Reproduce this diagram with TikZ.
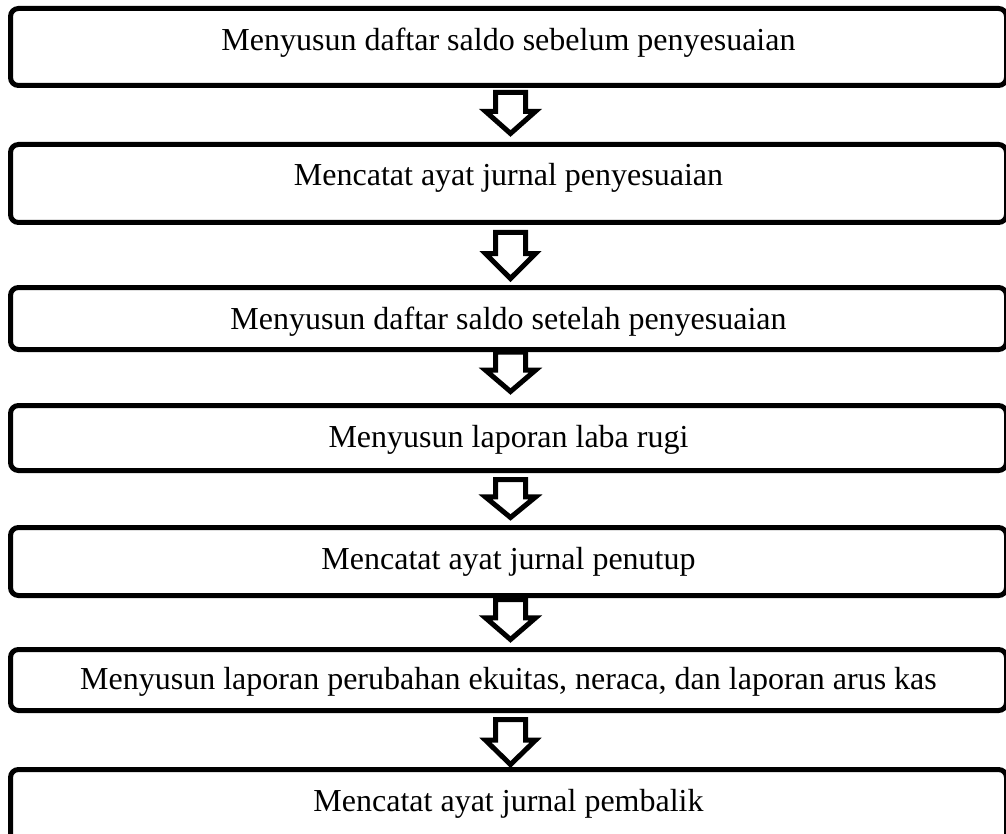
\documentclass[tikz,border=0pt]{standalone}
\usepackage{fontspec}
\setmainfont{Liberation Serif}
\usetikzlibrary{positioning, calc}
\tikzstyle{stepbox} = [rectangle, rounded corners=8pt, minimum width=996pt, line width=5pt, draw=black, text centered, font=\fontsize{32}{38}\selectfont, inner sep=0pt]
\tikzstyle{textdown} = [text height=#1, text depth=0pt]
\tikzstyle{blockarrow} = [draw=black, line width=5pt, line join=miter, fill=white]

% hollow arrow from one box to the next: #3 gap below the first, #4 gap above the second
\newcommand{\flowarrow}[4]{%
  \draw[blockarrow] let \p1=(#1.south), \p2=(#2.north),
    \n1={\y1-#3pt}, \n2={\y2+#4pt}, \n3={\n1+0.46*(\n2-\n1)}, \n4={\x1+2pt} in
    (\n4-15pt,\n1) -- (\n4-15pt,\n3) -- (\n4-25pt,\n3) -- (\n4,\n2)
    -- (\n4+25pt,\n3) -- (\n4+15pt,\n3) -- (\n4+15pt,\n1) -- cycle;
}

\begin{document}
\begin{tikzpicture}[x=1pt, y=-1pt]
    \useasboundingbox (0,0) rectangle (1006,834);
    % Nodes
    \node (saldoawal) [stepbox, minimum height=77pt, textdown=7pt] at (508.5,47) {Menyusun daftar saldo sebelum penyesuaian};
    \node (jurnalsesuai) [stepbox, minimum height=78pt, textdown=5pt, below=54pt of saldoawal] {Mencatat ayat jurnal penyesuaian};
    \node (saldoakhir) [stepbox, minimum height=62pt, textdown=21pt, below=60pt of jurnalsesuai] {Menyusun daftar saldo setelah penyesuaian};
    \node (labarugi) [stepbox, minimum height=65pt, textdown=18pt, below=51pt of saldoakhir] {Menyusun laporan laba rugi};
    \node (jurnaltutup) [stepbox, minimum height=68pt, textdown=15pt, below=52pt of labarugi] {Mencatat ayat jurnal penutup};
    \node (ekuitas) [stepbox, minimum height=61pt, textdown=18pt, below=49pt of jurnaltutup] {Menyusun laporan perubahan ekuitas, neraca, dan laporan arus kas};
    \node (jurnalbalik) [stepbox, minimum height=78pt, textdown=5pt, below=54pt of ekuitas] {Mencatat ayat jurnal pembalik};

    % Arrows
    \flowarrow{saldoawal}{jurnalsesuai}{4.5}{8.5}
    \flowarrow{jurnalsesuai}{saldoakhir}{7.5}{6.5}
    \flowarrow{saldoakhir}{labarugi}{0}{11.5}
    \flowarrow{labarugi}{jurnaltutup}{6.5}{7.5}
    \flowarrow{jurnaltutup}{ekuitas}{1.5}{7.5}
    \flowarrow{ekuitas}{jurnalbalik}{6.5}{2.5}
\end{tikzpicture}
\end{document}
